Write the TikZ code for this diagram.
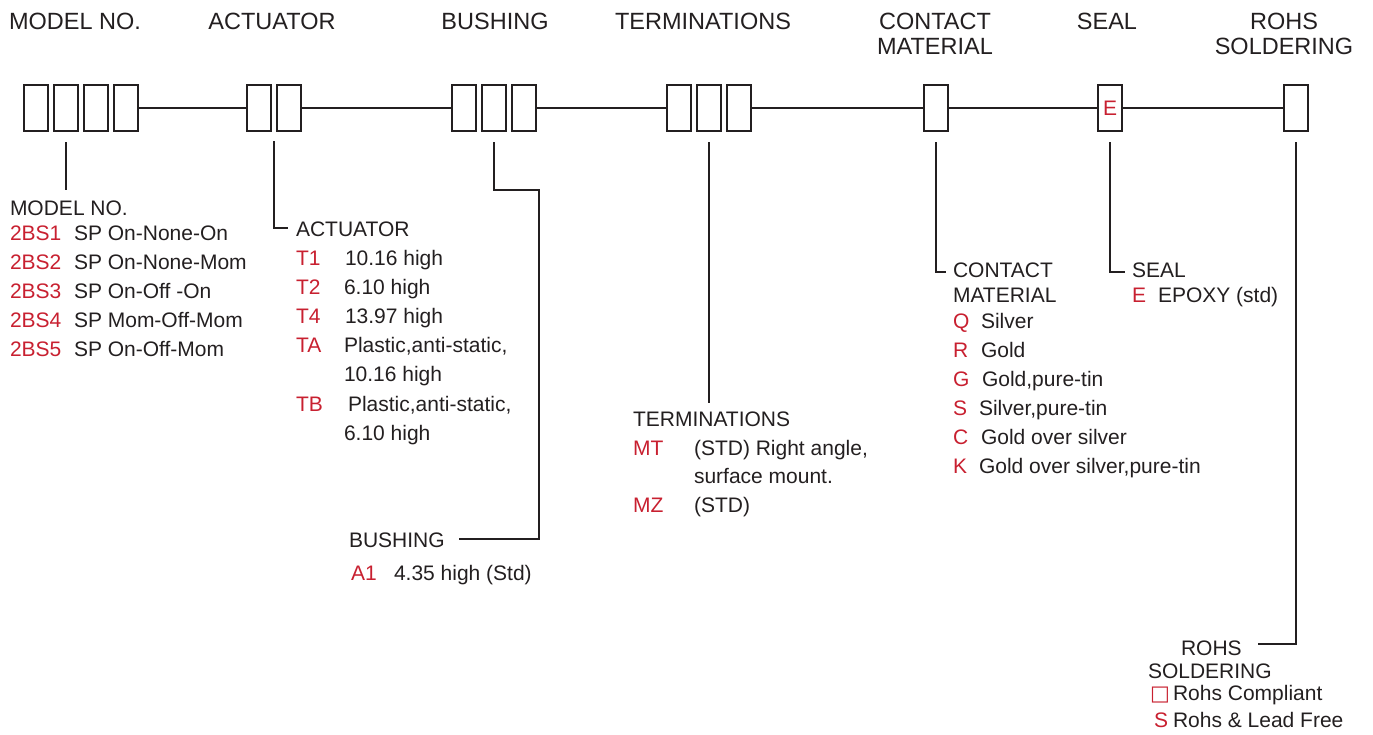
\documentclass[tikz,border=0pt]{standalone}
\usepackage{fontspec}
\setmainfont{Liberation Sans}
\newfontfamily\symfont{DejaVu Sans}
\definecolor{codered}{RGB}{200,32,48}
\definecolor{ink}{RGB}{35,31,32}
\begin{document}
\begin{tikzpicture}[x=1pt, y=-1pt, line width=2pt, color=ink,
  every node/.style={font=\fontsize{21}{29}\selectfont, inner sep=0pt},
  digit/.style={draw, minimum width=24pt, minimum height=46pt},
  head/.style={font=\fontsize{23.5}{25}\selectfont, anchor=base},
  item/.style={anchor=base west},
  code/.style={anchor=base west, text=codered}]
    \useasboundingbox (0,0) rectangle (1373,734);

    % Headings
    \node[head] (hmdl) at (75,29) {MODEL NO.};
    \node[head] (hact) at (272,29) {ACTUATOR};
    \node[head] (hbsh) at (495,29) {BUSHING};
    \node[head] (htrm) at (703,29) {TERMINATIONS};
    \node[head] (hcnta) at (935,29) {CONTACT};
    \node[head] (hcntb) at (935,54) {MATERIAL};
    \node[head] (hseal) at (1107,29) {SEAL};
    \node[head] (hrohsa) at (1284,29) {ROHS};
    \node[head] (hrohsb) at (1284,54) {SOLDERING};

    % Code boxes
    \foreach \i in {1,...,4} \node[digit] (mdl\i) at ({6+30*\i},108) {};
    \foreach \i in {1,2} \node[digit] (act\i) at ({229+30*\i},108) {};
    \foreach \i in {1,2,3} \node[digit] (bsh\i) at ({434+30*\i},108) {};
    \foreach \i in {1,2,3} \node[digit] (trm\i) at ({649+30*\i},108) {};
    \node[digit] (cnt) at (936,108) {};
    \node[digit, text=codered] (seal) at (1110,108) {E};
    \node[digit] (rohs) at (1296,108) {};

    % Main line
    \draw (mdl4) -- (act1);
    \draw (act2) -- (bsh1);
    \draw (bsh3) -- (trm1);
    \draw (trm3) -- (cnt);
    \draw (cnt) -- (seal);
    \draw (seal) -- (rohs);

    % Leads
    \coordinate (mdlend) at (66,190);
    \coordinate (acttop) at (274,141);
    \coordinate (actend) at (288,228);
    \coordinate (bshturn) at (539,190);
    \coordinate (bshend) at (459,539);
    \coordinate (trmend) at (709,403);
    \coordinate (cntend) at (946,272);
    \coordinate (sealend) at (1125,272);
    \coordinate (rohsend) at (1258,644);
    \draw ([yshift=-10pt]mdl2.south) -- (mdlend);
    \draw (acttop) |- (actend);
    \draw ([yshift=-10pt]bsh2.south) |- (bshturn) |- (bshend);
    \draw ([yshift=-10pt]trm2.south) -- (trmend);
    \draw ([yshift=-10pt]cnt.south) |- (cntend);
    \draw ([yshift=-10pt]seal.south) |- (sealend);
    \draw ([yshift=-10pt]rohs.south) |- (rohsend);

    % Model no.
    \node[item] (lmdl) at (9,215) {MODEL NO.};
    \foreach \key/\desc [count=\i from 0] in {2BS1/SP On-None-On, 2BS2/SP On-None-Mom,
      2BS3/SP On-Off -On, 2BS4/SP Mom-Off-Mom, 2BS5/SP On-Off-Mom} {
      \node[code] (mdlk\i) at (9,240+29*\i) {\key};
      \node[item] (mdld\i) at (73,240+29*\i) {\desc};
    }

    % Actuator
    \node[item] (lact) at (295,236) {ACTUATOR};
    \foreach \key/\desc/\dx [count=\i from 0] in {T1/10.16 high/344, T2/6.10 high/343,
      T4/13.97 high/344, TA/{Plastic,anti-static,}/343, {}/10.16 high/343,
      TB/{Plastic,anti-static,}/347, {}/6.10 high/343} {
      \node[code] (actk\i) at (295,265+29.2*\i) {\key};
      \node[item] (actd\i) at (\dx,265+29.2*\i) {\desc};
    }

    % Bushing
    \node[item] (lbsh) at (348,547) {BUSHING};
    \node[code] (bshk) at (350,580) {A1};
    \node[item] (bshd) at (393,580) {4.35 high (Std)};

    % Terminations
    \node[item] (ltrm) at (632,426) {TERMINATIONS};
    \node[code] (trmk1) at (632,455) {MT};
    \node[item] (trmd1) at (693,455) {(STD) Right angle,};
    \node[item] (trmd2) at (693,483) {surface mount.};
    \node[code] (trmk2) at (632,512) {MZ};
    \node[item] (trmd3) at (693,512) {(STD)};

    % Contact material
    \node[item] (lcnta) at (952,277) {CONTACT};
    \node[item] (lcntb) at (952,302) {MATERIAL};
    \foreach \key/\desc/\dx [count=\i from 0] in {Q/Silver/980, R/Gold/980,
      G/{Gold,pure-tin}/981, S/{Silver,pure-tin}/978, C/Gold over silver/980,
      K/{Gold over silver,pure-tin}/978} {
      \node[code] (cntk\i) at (952,328+29*\i) {\key};
      \node[item] (cntd\i) at (\dx,328+29*\i) {\desc};
    }

    % Seal
    \node[item] (lseal) at (1131,277) {SEAL};
    \node[code] (sealk) at (1131,302) {E};
    \node[item] (seald) at (1157,302) {EPOXY (std)};

    % RoHS soldering
    \node[item] (lrohsa) at (1180,655) {ROHS};
    \node[item] (lrohsb) at (1147,678) {SOLDERING};
    \node[code] (rohsk1) at (1149,700) {\symfont □};
    \node[item] (rohsd1) at (1172,700) {Rohs Compliant};
    \node[code] (rohsk2) at (1153,727) {S};
    \node[item] (rohsd2) at (1172,727) {Rohs \& Lead Free};
\end{tikzpicture}
\end{document}
